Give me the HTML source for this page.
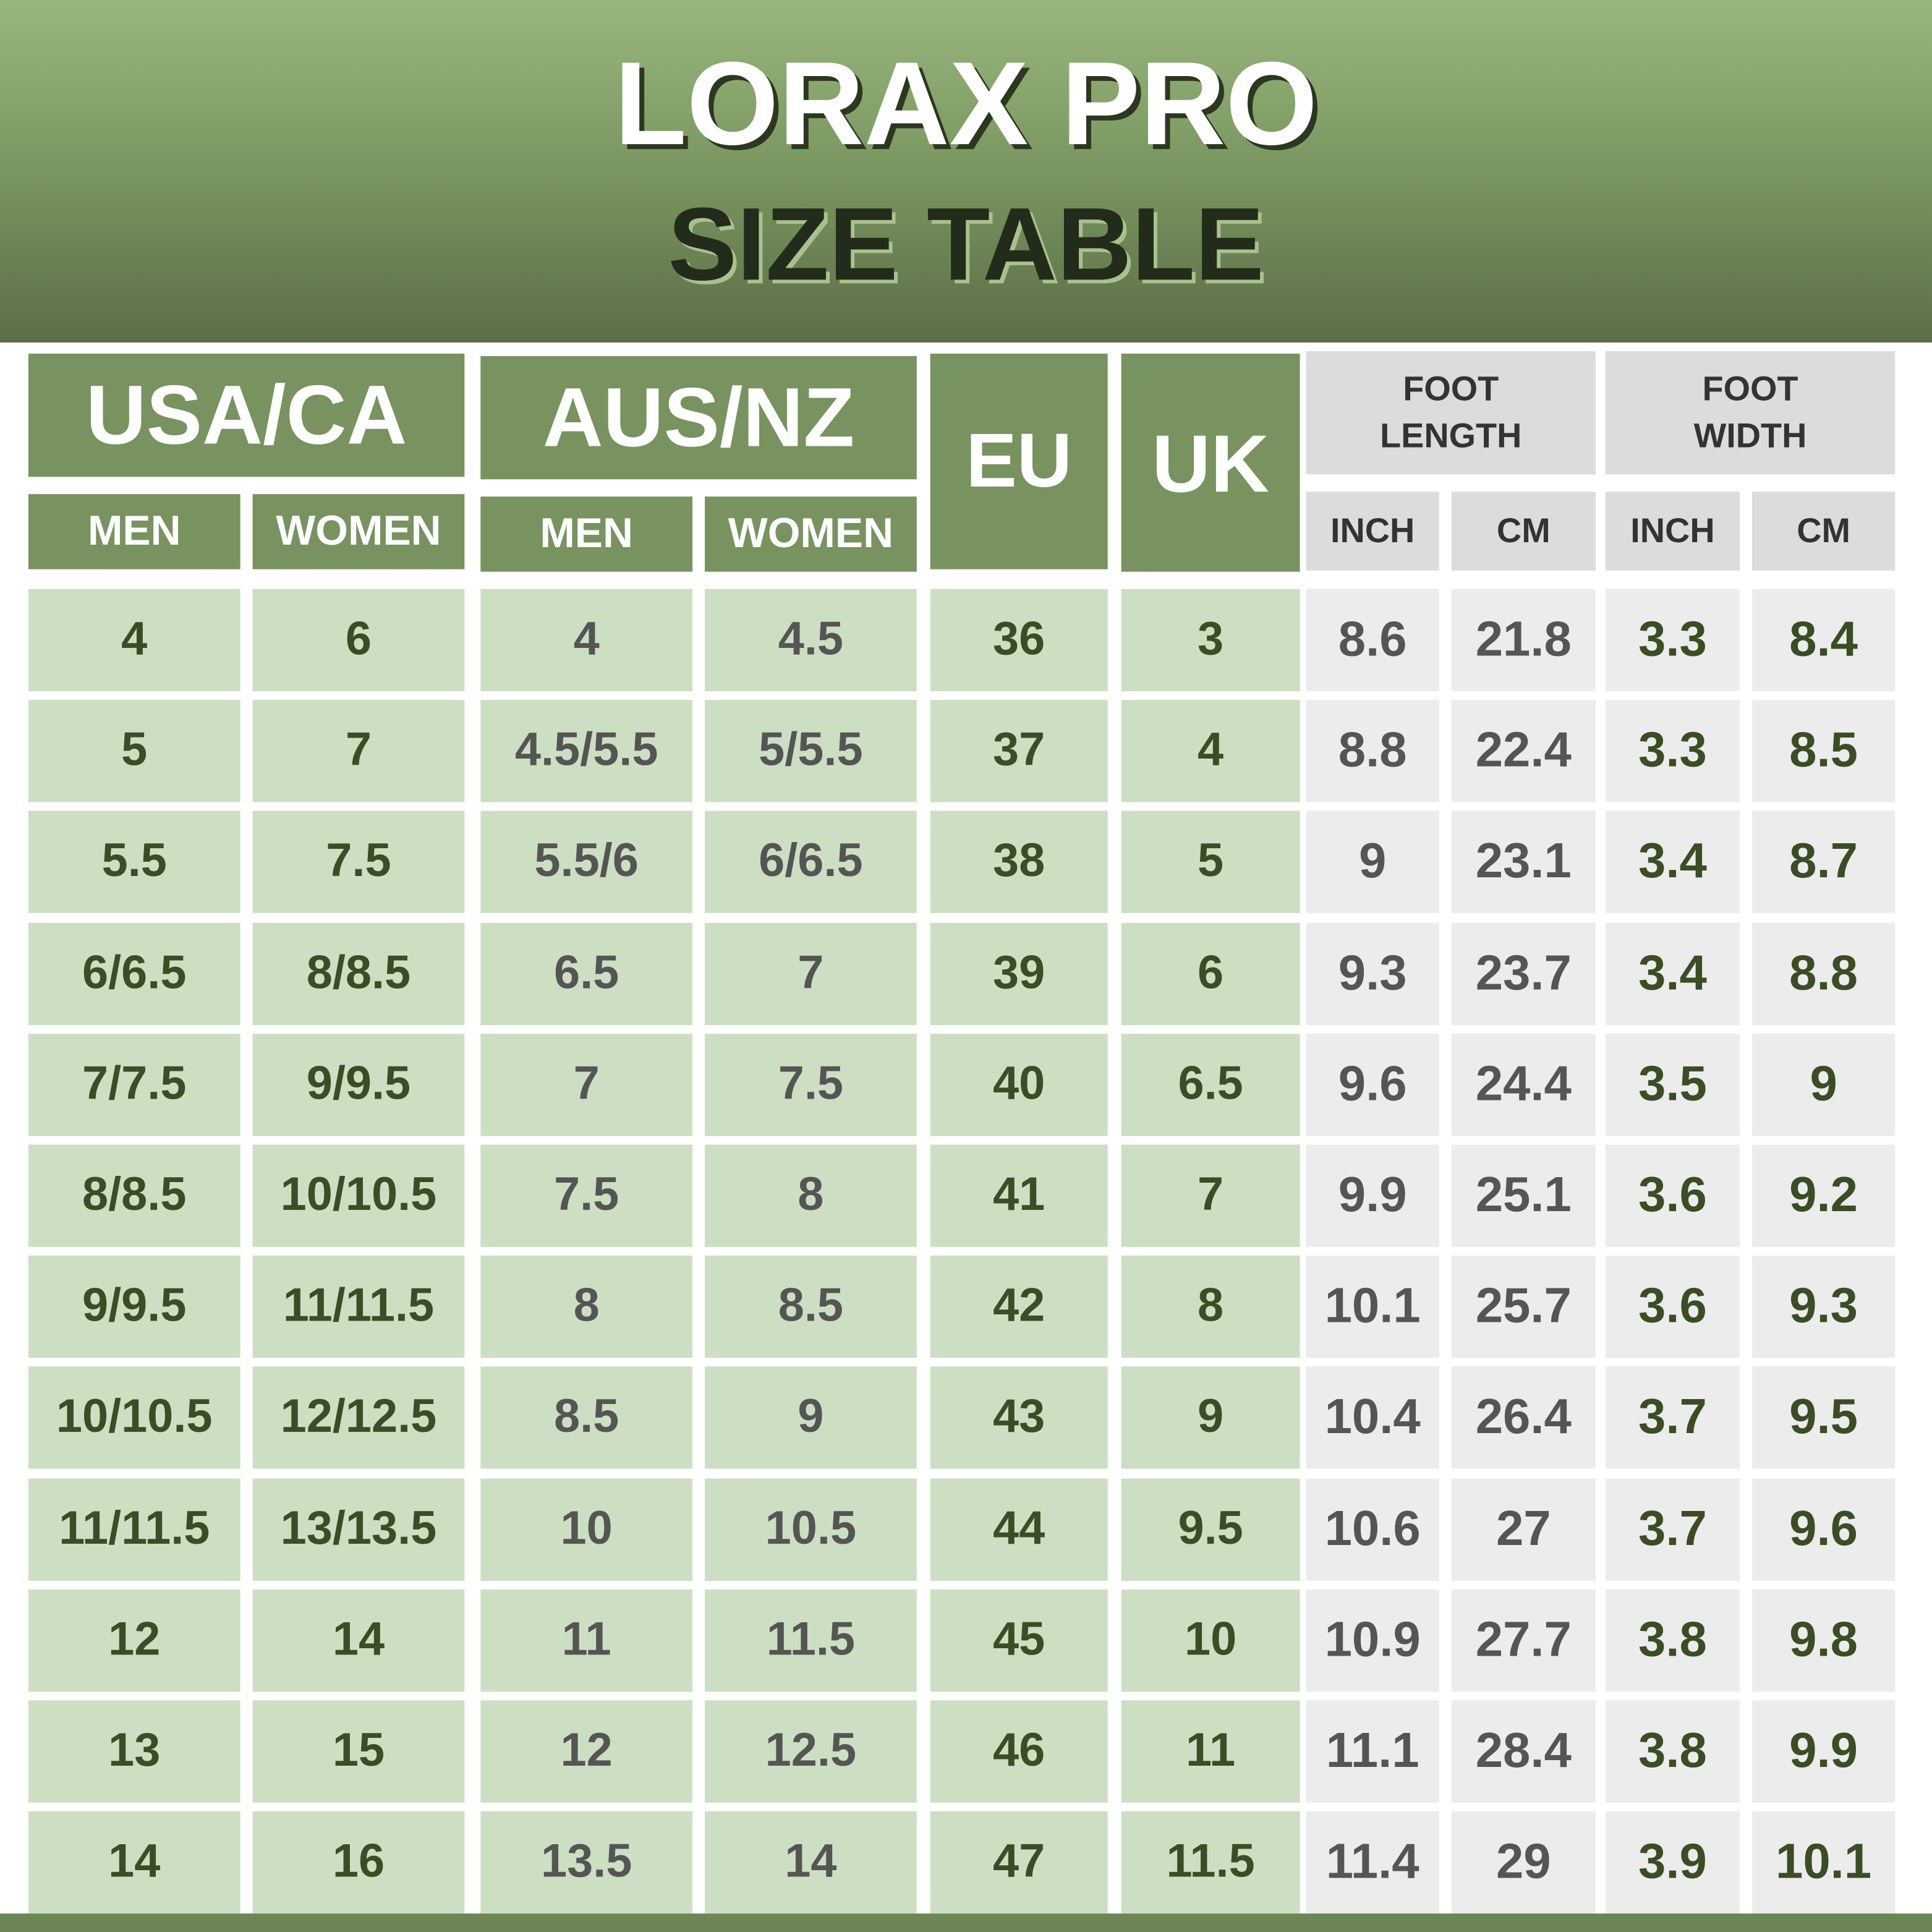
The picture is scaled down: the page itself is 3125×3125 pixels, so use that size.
<!DOCTYPE html>
<html><head><meta charset="utf-8"><style>
html,body{margin:0;padding:0;background:#fff;}
#w{width:1568px;height:1568px;position:relative;transform:scale(1.99298);transform-origin:0 0;overflow:hidden;background:#fff;font-family:"Liberation Sans",sans-serif;font-weight:bold;}
.hd{position:absolute;left:0;top:0;width:1568px;height:278px;background:linear-gradient(#98b77c,#7a9660 50%,#5b6e47);}
.t{position:absolute;left:0;width:1568px;text-align:center;}
.b{position:absolute;display:flex;align-items:center;justify-content:center;text-align:center;}
.g{background:#78935f;color:#fff;}
.gr{background:#dcdcdc;color:#333;}
.dg{background:#cddfc3;font-size:38px;}
.lg{background:#ececec;font-size:40px;}
.foot{position:absolute;left:0;top:1553px;width:1568px;height:15px;background:#6c8655;}
</style></head><body><div id="w">
<div class="hd"></div>
<div class="t" style="top:30px;font-size:96px;color:#fff;text-shadow:4px 4px 0 #2c3720;">LORAX PRO</div>
<div class="t" style="top:150px;font-size:84px;color:#232b1a;text-shadow:3px 3px 0 #a8c28f;">SIZE TABLE</div>

<div class="b g" style="left:23px;top:287px;width:354px;height:100px;font-size:68px;">USA/CA</div>
<div class="b g" style="left:390px;top:289px;width:354px;height:100px;font-size:68px;">AUS/NZ</div>
<div class="b g" style="left:23px;top:401px;width:172px;height:61px;font-size:34px;">MEN</div>
<div class="b g" style="left:205px;top:401px;width:172px;height:61px;font-size:34px;">WOMEN</div>
<div class="b g" style="left:390px;top:403px;width:172px;height:61px;font-size:34px;">MEN</div>
<div class="b g" style="left:572px;top:403px;width:172px;height:61px;font-size:34px;">WOMEN</div>
<div class="b g" style="left:755px;top:287px;width:144px;height:175px;font-size:62px;">EU</div>
<div class="b g" style="left:910px;top:287px;width:145px;height:177px;font-size:66px;">UK</div>
<div class="b gr" style="left:1060px;top:285px;width:235px;height:100px;font-size:28px;line-height:38px;">FOOT<br>LENGTH</div>
<div class="b gr" style="left:1303px;top:285px;width:235px;height:100px;font-size:28px;line-height:38px;">FOOT<br>WIDTH</div>
<div class="b gr" style="left:1060px;top:399px;width:108px;height:64px;font-size:28px;">INCH</div>
<div class="b gr" style="left:1178px;top:399px;width:117px;height:64px;font-size:28px;">CM</div>
<div class="b gr" style="left:1303px;top:399px;width:109px;height:64px;font-size:28px;">INCH</div>
<div class="b gr" style="left:1422px;top:399px;width:116px;height:64px;font-size:28px;">CM</div>

<div id="rows"></div>
<div class="foot"></div>
</div>
<script>
(function(){
var data=[
["4","6","4","4.5","36","3","8.6","21.8","3.3","8.4"],
["5","7","4.5/5.5","5/5.5","37","4","8.8","22.4","3.3","8.5"],
["5.5","7.5","5.5/6","6/6.5","38","5","9","23.1","3.4","8.7"],
["6/6.5","8/8.5","6.5","7","39","6","9.3","23.7","3.4","8.8"],
["7/7.5","9/9.5","7","7.5","40","6.5","9.6","24.4","3.5","9"],
["8/8.5","10/10.5","7.5","8","41","7","9.9","25.1","3.6","9.2"],
["9/9.5","11/11.5","8","8.5","42","8","10.1","25.7","3.6","9.3"],
["10/10.5","12/12.5","8.5","9","43","9","10.4","26.4","3.7","9.5"],
["11/11.5","13/13.5","10","10.5","44","9.5","10.6","27","3.7","9.6"],
["12","14","11","11.5","45","10","10.9","27.7","3.8","9.8"],
["13","15","12","12.5","46","11","11.1","28.4","3.8","9.9"],
["14","16","13.5","14","47","11.5","11.4","29","3.9","10.1"]];
var cols=[[23,172,"dg","#3a4d24"],[205,172,"dg","#3a4d24"],[390,172,"dg","#555"],[572,172,"dg","#555"],[755,144,"dg","#3a4d24"],[910,145,"dg","#3a4d24"],[1060,108,"lg","#555"],[1178,117,"lg","#555"],[1303,109,"lg","#3a4d24"],[1422,116,"lg","#3a4d24"]];
var h="";
for(var r=0;r<12;r++){var yy=478+r*90.2;
for(var c=0;c<10;c++){var k=cols[c];
h+='<div class="b '+k[2]+'" style="left:'+k[0]+'px;top:'+yy+'px;width:'+k[1]+'px;height:83px;color:'+k[3]+';">'+data[r][c]+'</div>';}}
document.getElementById("rows").innerHTML=h;
})();
</script>
</body></html>
